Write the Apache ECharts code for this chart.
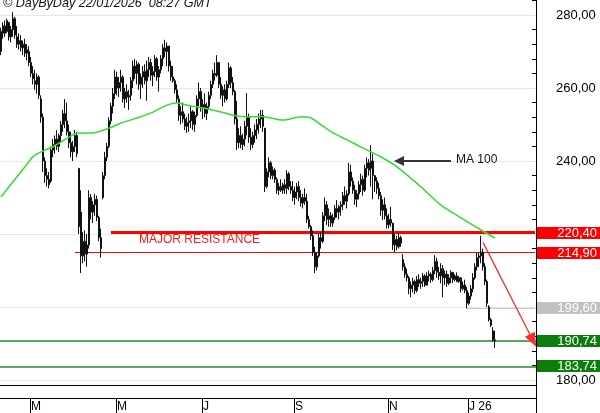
<!DOCTYPE html>
<html>
<head>
<meta charset="utf-8">
<script src="https://cdn.jsdelivr.net/npm/echarts@6/dist/echarts.min.js"></script>
<style>
html,body{margin:0;padding:0;background:#fff;}
#c{width:600px;height:413px;}
</style>
</head>
<body>
<div id="c"></div>
<script>
// ---- data ----
const open = [270,275,277,275.5,278,274,276,279,274,272,273,271,272,269.5,270,267,264,262,261,263,
257,252,240,236,235,234.5,243,244.5,246,244,247,250,253,251,248,245,242.5,244,247,238,
226,214,218,214.5,217,230,226,228,229.5,224.5,219,230,236,241,244,251,255,258.5,263,260,
261.5,263,257,259,257.5,258,262,266,264,266.5,261,263,264.5,262,265,267,263.5,264.5,268,263,
265,268,271,270,271.5,266,263,262,259.5,257,252.5,253.5,251.5,249.5,250.5,251,253.5,250,252.5,257,
259,254.5,255.5,253,255,258,261,264,263.5,267,261,258,259.5,257,261,265.5,261.5,259,251.5,245,
247,244.5,246,249.5,252,246.5,244.5,247,248.5,250,251.5,252.5,249,233,237,239.5,236,237.5,235,232,
233,232,233.5,232.5,236.5,233,232,230,231.5,233,230,228.5,230,229,224,222,219.5,215,211,214,
219,218,225,228,224,225,223,224.5,227,226,227.5,228,230.5,229,231,237,234.5,232,229.5,231,
233.5,235,232,238,239.5,238,240,236,234.5,232.5,230.5,226.5,228,225,222.5,224,223,217,218.5,216.5,
219,213,211,209,208,205,206,207,204.5,207.5,206.5,207,208.5,206,208.5,209,207.5,210,212.5,209.5,
208.5,210.5,208,209,206.5,208,209.5,207.5,208.5,207,208,205,206,204.5,201,203,205,208,211,213.5,
214,215,211,207,200,196.5,193.5,191];
const close = [275.5,277,275,278.5,274,276,279,274.5,272,273,271,272,269.5,270.5,267,264,262.5,261,263,258,
252,240,236,235,233.5,243,244.5,246,244,247,250,253,251,248,245,242.5,244,247,242,222,
214,218,214.5,217,230,226,228,229.5,224.5,219,216,236,241,244,251,255,258.5,263,260,261.5,
263,257,259,257.5,258,262,266,264,266.5,261,263,264.5,262,265,267,263.5,264.5,268,263,265,
268,271,270,271.5,266,263,262,259.5,257,252.5,253.5,251.5,249.5,250.5,251,253.5,250,252.5,257,259,
254.5,255.5,253,255,258,261,264,263.5,267,261,258,259.5,257,261,265.5,261.5,259,251.5,245,247,
244.5,246,249.5,252,246.5,244.5,247,248.5,250,251.5,252.5,249.5,233,237,239.5,236,237.5,235,232,233,
232,233.5,232.5,236.5,233,232,230,231.5,233,230,228.5,230,229,224,222,219.5,215,211,214,219,
218,225,228,224,225,223,224.5,227,226,227.5,228,230.5,229,231,237,234.5,232,229.5,231,233.5,
235,232,238,239.5,237.5,240,236,234.5,232.5,230.5,226.5,228,225,222.5,224,223,217,218.5,216.5,219,
217.5,211,209,208,205,206,207,204.5,207.5,206.5,207,208.5,206,208.5,209,207.5,210,212.5,209.5,208.5,
210.5,208,209,206.5,208,209.5,207.5,208.5,207,208,205,206,204.5,201,203,205,208,211,213.5,214,
215,211,207,201,196.5,195,191,190.74];
const low = [269,273.5,274,275,273,272.5,274,273.5,271,270.5,270,269,268.5,267.5,266,263,261,259.5,258.5,257,
250.5,237,234,233,232.5,234,241,242,243,242.5,245,248,249,247,243.5,241,240,242.5,241,220,
209.3,212,212.5,211,216,224,223,225,223.5,218,213.5,229.5,235,240,243.5,250,253,257,258,257.5,
259,256,254.5,256,254,256.5,260,262.5,261,259.5,257,260,261,256.5,263,262,260.5,263,262,259,
264,266,268.5,266,264.5,262,261.5,258.5,256,251,250,250.5,248.5,247.7,248,249,248.5,248,252,255,
253.5,251.5,252,251.2,254,257,260,262,263,260,257,255,256,256.5,260,260,258,250,243,243.5,
243.5,243,244,247,245,243,243.5,245,246,247.5,249,248,231.5,232.5,235.5,235,235,234,231,230.7,
231.5,231,231,231,232,231,229,228,229.5,229,227.5,227,228,223,221.5,218.4,214,209.3,210,213.5,
216,217.5,223.5,222.5,222,221.9,222,223.8,224.5,224,225,226.5,228,227,230.5,233,231,228,227.4,229.5,
231.5,230.5,231.5,235.5,236,233,229.5,231.5,231,229.5,225,223.8,224,221.5,221.5,222,215.6,215,215.5,216,
216.5,210,208,207,203.5,202.7,204,203.5,204,205.5,205,205.5,205.5,205.8,207,206.6,207,209,208,207.4,
206.5,202.7,206,205.5,206,206.5,206.6,207,206.8,206.6,204,204.5,203.8,199.6,200.5,202,204,207.5,210,211,
212,210,206,200,196,194.5,190.5,188.8];
const high = [276.5,278,278.5,279,278,277,280.8,279.5,277,275,274.5,273,273.5,272,271.5,268.5,266,265,264,263.5,
258,253,241,238,237,244,246,247,248.5,247.5,251,254,257,256,250,248,245.5,248.5,248,238,
232,220.5,221,220,232,231,229,231,230.5,225,221.5,237,242.5,245,252,256,260,265,264.5,263,
265,263.5,260,261,259.5,263,267.5,268,267.5,267,264,266,266.5,267.5,268.5,268,266,269,268.5,266,
269,272,273.2,272.5,271.5,267.5,266,262.5,261,258,255,256,253,252,253,255,254,253.5,258,261.5,
260,257,258.5,256,259,262,265,267,269,267,263,260.5,261,262,267,266,263,259.5,256.5,249,
249.5,247.5,251,258.6,253,249,248,250,251.5,253,254,254,249,238,241,240,238.5,238,235.5,234,
235,234,235,237.5,237,234.5,234.5,233,234,234.5,232,231,232.5,231,225,222.5,221,216.5,215,220,
220.5,226,230,229,227,226,225.5,228,229.3,228,229,231.5,233,232,239.5,239,235.5,233.5,232,234.5,
236.5,236,239,241,240.5,244.4,242,236,235.5,234,231.5,229.5,230,227,225.5,227.5,223,220,219.5,220.3,
219.5,214.5,212,210.5,208.5,207,208,207.5,208.5,209,208,209.3,209,209.5,210,209.5,211,214.2,213.5,211,
212,211.5,210,210,209,210.1,209.6,209,209.5,208.5,208.2,207,207.5,205.5,204,206,209.3,212,214.8,215,
219.5,216,212,207.5,200.5,197,194.5,193.5];

// MA 100 read at a few points (bar index, value)
const maIdx = [0,6,12,16,20,26,33,38,46,54,60,68,76,83,88,93,101,110,118,123,130,141,150,155,160,166,173,180,190,198,210,220,230,240,247];
const maVal = [230.2,234.3,238.4,241.2,242.5,243.9,246.2,247.6,247.7,249.0,250.4,251.8,253.4,255.3,255.9,255.3,254.5,253.4,252.3,252.1,252.2,251.2,252.1,251.8,249.9,247.7,245.8,243.8,241.1,238.4,232.9,227.9,224.4,221.1,218.9];

// x axis: month start bar indices and labels
const monthStarts = [15,58,101,147,194,234];
const monthLabels = ['M','M','J','S','N','J 26'];
const totalSlots = 268;

// y axis ticks / labels
const yLabelVals = [180,200,220,240,260,280];
const yTickVals = [180,184,188,192,196,200,204,208,212,216,220,224,228,232,236,240,244,248,252,256,260,264,268,272,276,280,284];

// level lines and their right-hand boxes
const levelVals = [220.40, 214.90, 199.60, 190.74, 183.74];
const levelBoxColors = ['#ff0000','#ff0000','#c0c0c0','#0a7d0a','#0a7d0a'];

const resistanceHigh = 220.40, resistanceLow = 214.90, lastLow = 199.60;
const support1 = 190.74, support2 = 183.74;

// ---- build ----
const cats = Array.from({length: totalSlots}, (_, i) => String(i));
const ohlc = open.map((o, i) => [o, close[i], low[i], high[i]]);
const maData = maIdx.map((x, i) => [x, maVal[i]]);
const fmt = v => v.toFixed(2).replace('.', ',');
const FONT = '"Liberation Sans", Arial, sans-serif';

const chart = echarts.init(document.getElementById('c'), null, {renderer: 'canvas'});

chart.setOption({
  animation: false,
  backgroundColor: '#ffffff',
  title: {
    text: '© DayByDay 22/01/2026  08:27 GMT',
    left: 3, top: -3, padding: 0,
    textStyle: {fontSize: 12.6, fontStyle: 'italic', fontWeight: 'normal', color: '#111', fontFamily: FONT}
  },
  grid: {left: 0, right: 64, top: 0, bottom: 28},
  xAxis: [{
    type: 'category', data: cats, boundaryGap: true, position: 'bottom', offset: 13,
    axisLine: {show: true, lineStyle: {color: '#000', width: 1}},
    axisTick: {show: true, inside: false, length: 15, interval: (i) => monthStarts.includes(i), lineStyle: {color: '#000'}},
    axisLabel: {
      interval: (i) => monthStarts.includes(i),
      formatter: (v, i) => monthLabels[monthStarts.indexOf(i)] || '',
      align: 'left', margin: 3, color: '#000', fontSize: 12, fontFamily: FONT
    },
    splitLine: {show: false}
  }, {
    type: 'category', data: cats, boundaryGap: true, position: 'bottom', offset: 0,
    axisLine: {show: true, lineStyle: {color: '#000', width: 1}},
    axisTick: {show: false}, axisLabel: {show: false}, splitLine: {show: false}
  }],
  yAxis: {
    type: 'value', position: 'right', min: 178.63, max: 284.11,
    axisLine: {show: true, lineStyle: {color: '#000', width: 1}},
    axisTick: {show: true, inside: true, length: 4, customValues: yTickVals, lineStyle: {color: '#000'}},
    axisLabel: {customValues: yLabelVals, formatter: fmt, margin: 20, align: 'left', color: '#000', fontSize: 13, fontFamily: FONT},
    splitLine: {show: false}
  },
  series: [{
    type: 'line', data: [], silent: true,
    markLine: {
      silent: true, symbol: 'none', z: 1, label: {show: false},
      data: [
        ...yLabelVals.map(v => ({yAxis: v, lineStyle: {color: '#d6f5d6', width: 1, type: 'solid'}})),
        [{coord: [55, resistanceHigh], lineStyle: {color: '#ff0000', width: 3, type: 'solid'}}, {coord: [totalSlots - 1, resistanceHigh]}],
        [{coord: [37, resistanceLow], lineStyle: {color: '#ff0000', width: 1.2, type: 'solid'}}, {coord: [totalSlots - 1, resistanceLow]}],
        [{coord: [233, lastLow], lineStyle: {color: '#c8c8c8', width: 1, type: 'solid'}}, {coord: [totalSlots - 1, lastLow]}],
        {yAxis: support1, lineStyle: {color: '#5aa85a', width: 2, type: 'solid'}},
        {yAxis: support2, lineStyle: {color: '#5aa85a', width: 2, type: 'solid'}}
      ]
    },
    markPoint: {
      silent: true, symbol: 'circle', symbolSize: 0,
      data: [{
        name: 'MAJOR RESISTANCE', coord: [69, 218.4],
        label: {show: true, position: 'right', distance: 0, formatter: '{b}', color: '#ff1a1a', fontSize: 12, fontFamily: FONT}
      }]
    }
  }, {
    type: 'candlestick', data: ohlc, barWidth: 2, z: 2,
    itemStyle: {color: '#8a8a8a', color0: '#8a8a8a', borderColor: '#111', borderColor0: '#111', borderWidth: 1}
  }, {
    type: 'line', data: maData, smooth: 0.25, showSymbol: false, z: 3,
    lineStyle: {color: '#33dd33', width: 1.5},
    markLine: {
      silent: true, z: 6, label: {show: false},
      data: [
        [{coord: [241, 217.7], symbol: 'none', lineStyle: {color: '#ff2a2a', width: 1.3, type: 'solid'}},
         {coord: [266, 190.8], symbol: 'triangle', symbolSize: [11, 14]}],
        [{coord: [225, 240], symbol: 'none', lineStyle: {color: '#333', width: 2, type: 'solid'}},
         {coord: [199, 240], symbol: 'triangle', symbolSize: [10, 10]}]
      ]
    },
    markPoint: {
      silent: true, symbol: 'circle', symbolSize: 0,
      data: [{
        name: 'MA 100', coord: [227, 240.3],
        label: {show: true, position: 'right', distance: 1, formatter: '{b}', color: '#111', fontSize: 12, fontFamily: FONT}
      }]
    }
  }]
});

// value boxes at the right, placed through the y scale
const W = chart.getWidth(), H = chart.getHeight();
const axisX = W - 64;
const gridBottom = H - 28;
const graphics = [];
levelVals.forEach((v, k) => {
  const py = Math.round(chart.convertToPixel({yAxisIndex: 0}, v));
  graphics.push({type: 'rect', z: 200, zlevel: 0, shape: {x: axisX + 1, y: py - 6, width: W - axisX - 1, height: 12}, style: {fill: levelBoxColors[k]}});
  graphics.push({type: 'text', z: 201, zlevel: 0, x: W - 3, y: py + 0.5, style: {text: fmt(v), fill: '#fff', align: 'right', verticalAlign: 'middle', font: '13px ' + FONT}});
});
graphics.push({type: 'line', z: 200, shape: {x1: axisX + 0.5, y1: gridBottom, x2: axisX + 0.5, y2: H}, style: {stroke: '#000', lineWidth: 1}});
chart.setOption({graphic: graphics});
</script>
</body>
</html>
